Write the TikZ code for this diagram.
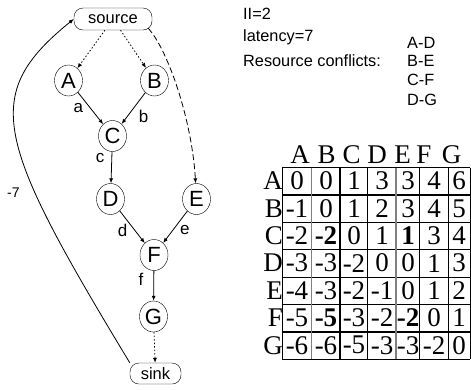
\documentclass[tikz,border=0pt]{standalone}
\usepackage{fontspec}
\setmainfont{Liberation Serif}
\setsansfont{Liberation Sans}
\usetikzlibrary{arrows.meta,shapes.geometric}

\tikzset{
  op/.style={draw, ellipse, minimum width=28pt, minimum height=31pt, inner sep=0pt,
    font=\sffamily\fontsize{22}{26}\selectfont},
  terminal/.style={draw, rounded corners=9pt, minimum width=78pt, minimum height=22pt,
    inner sep=0pt, font=\sffamily\fontsize{16.5}{19}\selectfont},
  dep/.style={-{Latex[length=5pt,width=4pt]}, line width=0.8pt},
  pseudo/.style={dep, dash pattern=on 1.5pt off 2pt},
  lbl/.style={inner sep=1pt, font=\sffamily\fontsize{17}{20}\selectfont},
  info/.style={anchor=base west, inner sep=0pt, font=\sffamily\fontsize{16.3}{19}\selectfont},
  cell/.style={inner sep=0pt, font=\fontsize{27}{32}\selectfont},
}

\begin{document}
\begin{tikzpicture}[x=1pt,y=-1pt]
\useasboundingbox (0,0) rectangle (471,389);

% dependence graph
\node[terminal] (source) at (113,19) {source};
\node[op] (A) at (68.5,80.5) {A};
\node[op] (B) at (154.5,80.5) {B};
\node[op] (C) at (112.5,136) {C};
\node[op] (D) at (110.5,199) {D};
\node[op] (E) at (196.5,199) {E};
\node[op] (F) at (154,255) {F};
\node[op] (G) at (153.5,316.5) {G};
\node[terminal, minimum width=51pt, minimum height=21pt] (sink) at (155.5,373.5) {sink};

\draw[pseudo] (source) -- (A);
\draw[pseudo] (source) -- (B);
\draw[dep, dash pattern=on 6pt off 3pt] ([xshift=-4pt,yshift=2pt]source.south east)
  .. controls (168,50) and (192,120) .. (E);
\draw[dep] (A) -- (C) node[lbl, pos=0.5, left=6pt] {a};
\draw[dep] (B) -- (C) node[lbl, pos=0.75, right=10pt] {b};
\draw[dep] (C) -- (D) node[lbl, pos=0.2, left=6pt] {c};
\draw[dep] (D) -- (F) node[lbl, pos=0.6, left=6pt] {d};
\draw[dep] (E) -- (F) node[lbl, pos=0.6, right=6pt] {e};
\draw[dep] (F) -- (G) node[lbl, pos=0.28, left=9pt] {f};
\draw[pseudo] (G) -- (sink);
\draw[dep] (sink.north west) .. controls (-5,140) and (-20,95) .. (source.west)
  node[lbl, pos=0.33, left=14pt, font=\sffamily\fontsize{14}{17}\selectfont] {-7};

% schedule info
\node[info] (ii) at (243,19) {II=2};
\node[info] (lat) at (243,41.5) {latency=7};
\node[info] (res) at (243,66) {Resource conflicts:};
\foreach \p/\y in {A-D/48, B-E/66, C-F/85, D-G/105}
  \node[info] (conf\p) at (407,\y) {\p};

% distance table
\foreach \y in {0,...,7}
  \draw[line width=1.2pt] (282.3,167.7+27.37*\y) -- (470.3,167.7+27.37*\y);
\foreach \x in {282.3,340,367.7,419.3,448.3,470.3}
  \draw[line width=1.2pt] (\x,167.7) -- (\x,359.3);
\foreach \x in {311.7,396}
  \draw[line width=1.2pt, gray] (\x,167.7) -- (\x,359.3);

\foreach \x/\c in {300/A, 326.7/B, 351.7/C, 377/D, 402.7/E, 424/F, 451.7/G}
  \node[cell] (col\c) at (\x,155) {\c};
\foreach \c [count=\i] in {A,B,C,D,E,F,G}
  \node[cell, anchor=east] (row\c) at (283,181+27.37*\i-27.37) {\c};

\foreach \vals [count=\i] in {{0,0,1,3,3,4,6},{-1,0,1,2,3,4,5},
    {-2,\textbf{-2},0,1,\textbf{1},3,4},{-3,-3,-2,0,0,1,3},{-4,-3,-2,-1,0,1,2},
    {-5,\textbf{-5},-3,-2,\textbf{-2},0,1},{-6,-6,-5,-3,-3,-2,0}}
  \foreach \v [count=\j] in \vals {
    \pgfmathsetmacro\cx{{297,326,354,382,408,434,459}[\j-1]}
    \node[cell] (c\i\j) at (\cx,181+27.37*\i-27.37) {\v};
  }
\end{tikzpicture}
\end{document}
